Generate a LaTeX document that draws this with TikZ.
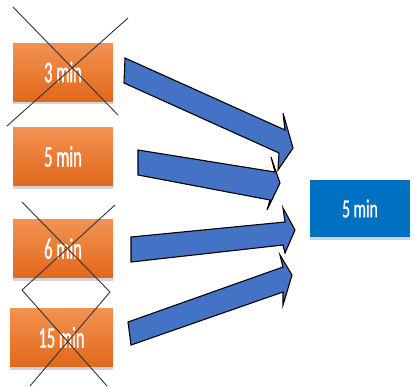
\documentclass[tikz,border=0pt]{standalone}
\usepackage{fontspec}
\newfontfamily\obfont[FakeStretch=0.55, FakeBold=1]{Carlito}
\newfontfamily\bbfont[FakeStretch=0.6, FakeBold=0.8]{Carlito}
\usetikzlibrary{shadows}
\definecolor{otop}{HTML}{F29252}
\definecolor{obot}{HTML}{E2681A}
\definecolor{bluebox}{HTML}{0070C0}
\definecolor{arrowblue}{HTML}{4472C4}
\tikzset{
  obox/.style={rectangle, minimum width=100pt, minimum height=58pt, inner sep=0pt,
    top color=otop, bottom color=obot, text=white,
    font=\obfont\fontsize{30}{30}\selectfont,
    drop shadow={shadow xshift=0pt, shadow yshift=-3pt, opacity=0.35}},
  bbox/.style={rectangle, minimum width=100pt, minimum height=57pt, inner sep=0pt,
    fill=bluebox, text=white,
    font=\bbfont\fontsize{26}{26}\selectfont,
    drop shadow={shadow xshift=0pt, shadow yshift=-3pt, opacity=0.35}},
  blockarrow/.style={fill=arrowblue, draw=black, line width=1.1pt, line join=miter},
  crossline/.style={draw=black!80, line width=0.9pt}
}
\begin{document}
\begin{tikzpicture}[x=1pt, y=-1pt]
\useasboundingbox (0,0) rectangle (414,386);
\node[obox] (b1) at (63,72) {3 min};
\node[obox] (b2) at (63,156.5) {5 min};
\node[obox] (b3) at (63,248.5) {6 min};
\node[obox, minimum width=103pt] (b4) at (61.5,337.5) {15 min};
\node[bbox] (t) at (360,208.5) {5 min};
% arrows
\draw[blockarrow] (125,58) -- (285,130) -- (283,113) -- (293,148) -- (278,170) -- (279,153) -- (124,83) -- cycle;
\draw[blockarrow] (138,150) -- (275,172) -- (271,157) -- (280,183) -- (267,210) -- (270,200) -- (138,175) -- cycle;
\draw[blockarrow] (131,237) -- (285,222) -- (283,208) -- (295,230) -- (285,253) -- (283,245) -- (131,262) -- cycle;
\draw[blockarrow] (128,322) -- (283,267) -- (280,255) -- (292,275) -- (283,305) -- (283,292) -- (131,345) -- cycle;
% crosses
\draw[crossline] (13,7) -- (118,115);
\draw[crossline] (128,18) -- (7,126);
\draw[crossline] (22,202) -- (110,292);
\draw[crossline] (115,205) -- (22,290);
\draw[crossline] (22,290) -- (107,386);
\draw[crossline] (110,292) -- (30,386);
\end{tikzpicture}
\end{document}
